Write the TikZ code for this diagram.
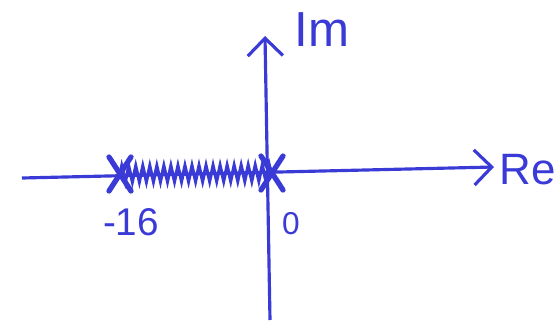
\documentclass[tikz,border=0pt]{standalone}
\usepackage{fontspec}
\setmainfont{Liberation Sans}
\usepackage{xcolor}
\usetikzlibrary{arrows.meta,decorations.pathmorphing,calc}
\definecolor{ink}{RGB}{58,58,214}

\begin{document}
\begin{tikzpicture}[x=0.02cm, y=-0.02cm,
    axis/.style={ink, line width=1.8pt, -{Straight Barb[length=10pt, width=20pt, line width=1.8pt]}},
    cross/.style={ink, line width=3pt, line cap=round},
    lbl/.style={ink, inner sep=0pt}]
    \useasboundingbox (0,0) rectangle (559,322);

    % Axes
    \coordinate (reStart) at (22,178);
    \coordinate (reEnd) at (494,167);
    \coordinate (imStart) at (270,320);
    \coordinate (imEnd) at (265,36);
    \draw[axis] (reStart) -- (reEnd);
    \draw[axis] (imStart) -- (imEnd);
    \node[lbl, font=\fontsize{25}{25}\selectfont] (re) at (528,170) {Re};
    \node[lbl, font=\fontsize{28}{28}\selectfont] (im) at (322,30) {Im};

    % Branch points
    \coordinate (pA) at (120,174);
    \coordinate (pB) at (272,173);
    \foreach \p in {pA,pB} {
        \draw[cross] ($(\p)+(-11,-17)$) -- ($(\p)+(11,17)$);
        \draw[cross] ($(\p)+(-11,17)$) -- ($(\p)+(11,-17)$);
    }

    % Branch cut
    \draw[ink, line width=1.8pt, decoration={zigzag, segment length=4pt, amplitude=4.5pt}, decorate] (pA) -- (pB);

    % Tick labels
    \node[lbl, font=\fontsize{22}{22}\selectfont] (m16) at (131,222) {-16};
    \node[lbl, font=\fontsize{18}{18}\selectfont] (zero) at (291,224) {0};
\end{tikzpicture}
\end{document}
